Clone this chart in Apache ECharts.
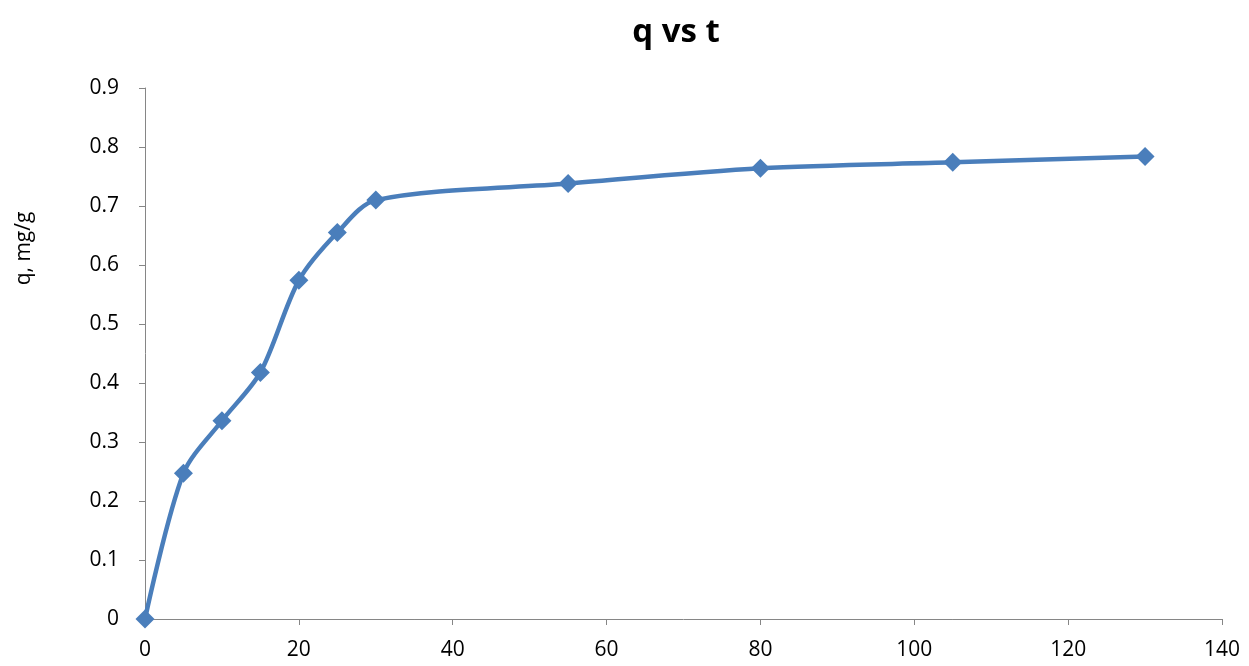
<!DOCTYPE html>
<html>
<head>
<meta charset="utf-8">
<script src="https://cdn.jsdelivr.net/npm/echarts@6/dist/echarts.min.js"></script>
<style>
  html, body { margin: 0; padding: 0; background: #ffffff; }
  #chart { width: 1249px; height: 666px; }
</style>
</head>
<body>
<div id="chart"></div>
<script>
// Contact time t (min) and adsorbed amount q (mg/g)
const tValues = [0, 5, 10, 15, 20, 25, 30, 55, 80, 105, 130];
const qValues = [0, 0.247, 0.336, 0.418, 0.574, 0.655, 0.710, 0.738, 0.764, 0.774, 0.784];
const chartTitle = 'q vs t';
const yAxisTitle = 'q, mg/g';

const axisGray = '#868686';
const lineBlue = '#4a7ebb';
const fontFam = '"Open Sans", "Liberation Sans", sans-serif';

const chart = echarts.init(document.getElementById('chart'), null, { renderer: 'canvas' });

chart.setOption({
  animation: false,
  backgroundColor: '#ffffff',
  title: {
    text: chartTitle,
    left: 671,
    top: 11,
    textAlign: 'center',
    textStyle: { fontFamily: fontFam, fontWeight: 'bold', fontSize: 33, color: '#000000' }
  },
  grid: { left: 145, right: 27, top: 88, bottom: 47 },
  xAxis: {
    type: 'value',
    min: 0,
    max: 140,
    interval: 20,
    axisLine: { show: true, lineStyle: { color: axisGray, width: 1 } },
    axisTick: { show: true, inside: false, length: 6, lineStyle: { color: axisGray } },
    axisLabel: { color: '#000000', fontFamily: fontFam, fontSize: 21, margin: 21 },
    splitLine: { show: false }
  },
  yAxis: {
    type: 'value',
    min: 0,
    max: 0.9,
    interval: 0.1,
    name: yAxisTitle,
    nameLocation: 'middle',
    nameRotate: 90,
    nameGap: 110,
    nameTextStyle: { color: '#000000', fontFamily: fontFam, fontSize: 21, padding: [0, 0, 0, 210] },
    axisLine: { show: true, lineStyle: { color: axisGray, width: 1 } },
    axisTick: { show: true, inside: false, length: 6, lineStyle: { color: axisGray } },
    axisLabel: {
      color: '#000000', fontFamily: fontFam, fontSize: 21, margin: 26,
      formatter: v => String(Math.round(v * 10) / 10)
    },
    splitLine: { show: false }
  },
  series: [{
    type: 'line',
    data: tValues.map((t, i) => [t, qValues[i]]),
    smooth: 0.3,
    symbol: 'diamond',
    symbolSize: 19,
    showAllSymbol: true,
    lineStyle: { color: lineBlue, width: 4.5 },
    itemStyle: { color: lineBlue, borderWidth: 0 },
    clip: false
  }]
});
</script>
</body>
</html>
